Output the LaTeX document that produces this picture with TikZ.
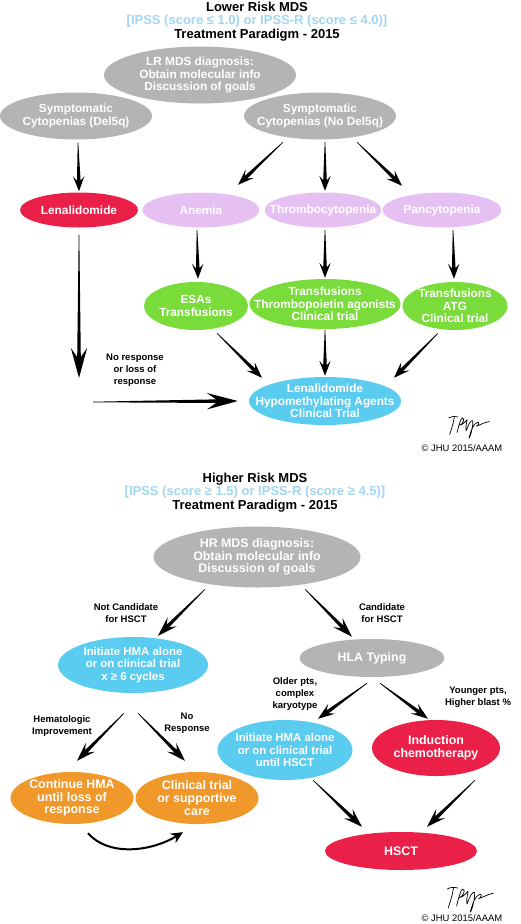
\documentclass[tikz,border=0pt]{standalone}
\usepackage{fontspec}
\setmainfont{Liberation Sans}
\usetikzlibrary{arrows.meta,calc,shapes.geometric}

\definecolor{mdsgrey}{RGB}{178,180,181}
\definecolor{mdspink}{RGB}{230,192,242}
\definecolor{mdsred}{RGB}{234,32,72}
\definecolor{mdsgreen}{RGB}{122,220,58}
\definecolor{mdscyan}{RGB}{90,204,240}
\definecolor{mdsorange}{RGB}{240,152,42}
\definecolor{mdsblue}{RGB}{160,214,240}

\newcommand\ovalfont{\bfseries\fontsize{11.8}{12.3}\selectfont}
\newcommand\hrfont{\bfseries\fontsize{12.4}{12.6}\selectfont}
\newcommand\hmafont{\bfseries\fontsize{11.4}{12.6}\selectfont}
\newcommand\lblfont{\bfseries\fontsize{9.5}{12}\selectfont}
\newcommand\ttlfont{\bfseries\fontsize{13}{13.4}\selectfont}

% tapered arrow: [head length]{from}{to}
\newcommand\tarrow[3][16]{%
  \path (#2) coordinate (ta) (#3) coordinate (tb);
  \pgfmathsetmacro\thw{0.16*#1+3.3}
  \pgfmathsetmacro\tnl{0.7*#1}
  \path ($(tb)!#1pt!(ta)$) coordinate (tm) ($(tb)!\tnl pt!(ta)$) coordinate (tn);
  \fill ($(ta)!0.3pt!90:(tb)$) -- ($(tn)!1.8pt!90:(tb)$) -- ($(tm)!\thw pt!90:(tb)$) -- (tb)
    -- ($(tm)!\thw pt!-90:(tb)$) -- ($(tn)!1.8pt!-90:(tb)$) -- ($(ta)!0.3pt!-90:(tb)$) -- cycle;}

% signature scribble
\newcommand\signature{%
  \draw[line width=0.7pt, line cap=round, line join=round]
    (3,2) .. controls (6,0) and (10,0) .. (13,1)
    (9,1) .. controls (8,8) and (6,14) .. (4,20)
    (12,18) .. controls (14,10) and (16,2) .. (18,2) .. controls (21,3) and (18,9) .. (15,10)
    .. controls (19,9) and (21,6) .. (23,4) .. controls (22,9) and (21,14) .. (22,16)
    .. controls (24,10) and (27,4) .. (29,5) .. controls (30,8) and (27,22) .. (25,24)
    .. controls (27,16) and (30,8) .. (34,7) .. controls (37,6) and (35,11) .. (33,11)
    .. controls (37,10) and (41,7) .. (47,6);}

\begin{document}
\begin{tikzpicture}[x=1pt, y=-1pt,
  txt/.style={align=center, text=white, inner sep=0pt, font=\ovalfont},
  oval/.style={ellipse, inner sep=0pt, label={[txt]center:{#1}}},
  hroval/.style={ellipse, inner sep=0pt, label={[txt, font=\hrfont]center:{#1}}},
  hmaoval/.style={ellipse, inner sep=0pt, label={[txt, font=\hmafont]center:{#1}}},
  wh/.style 2 args={minimum width=#1pt, minimum height=#2pt},
  lbl/.style={align=center, font=\lblfont},
  ttl/.style={align=center, font=\ttlfont},
  copyr/.style={font=\fontsize{9.4}{10}\selectfont}
]
\useasboundingbox (0,0) rectangle (520,924);

%% Lower risk
\node[ttl] (lrtitle) at (257,21.5) {Lower Risk MDS\\{\color{mdsblue}[IPSS (score ≤ 1.0) or IPSS-R (score ≤ 4.0)]}\\Treatment Paradigm - 2015};

\node[oval={LR MDS diagnosis:\\Obtain molecular info\\Discussion of goals}, fill=mdsgrey, wh={192}{57}] (lrdiag) at (200,75) {};
\node[oval={Symptomatic\\Cytopenias (Del5q)}, fill=mdsgrey, wh={152}{47}] (del5q) at (76,116) {};
\node[oval={Symptomatic\\Cytopenias (No Del5q)}, fill=mdsgrey, wh={152}{47}] (nodel) at (320,116) {};

\node[oval={Lenalidomide}, fill=mdsred, wh={118}{35}] (lena) at (79,210) {};
\node[oval={Anemia}, fill=mdspink, wh={117}{35}] (anemia) at (201,210) {};
\node[oval={Thrombocytopenia}, fill=mdspink, wh={117}{35}] (thromb) at (323,210) {};
\node[oval={Pancytopenia}, fill=mdspink, wh={119}{35}] (pancy) at (442,210) {};

\node[oval={ESAs\\Transfusions}, fill=mdsgreen, wh={104}{48}] (esa) at (196,306) {};
\node[oval={Transfusions\\Thrombopoietin agonists\\Clinical trial}, fill=mdsgreen, wh={151}{50}] (tpo) at (325,304) {};
\node[oval={Transfusions\\ATG\\Clinical trial}, fill=mdsgreen, wh={105}{48}] (atg) at (455,306) {};

\node[oval={Lenalidomide\\Hypomethylating Agents\\Clinical Trial}, fill=mdscyan, wh={152}{48}] (lhc) at (325,401) {};
\node[lbl] (noresp) at (135,370) {No response\\or loss of\\response};
\coordinate (lenaend) at (79,378);
\coordinate (nrstart) at (93,402);

\tarrow[15]{[xshift=2pt,yshift=-3pt]del5q.south}{[yshift=1pt]lena.north}
\tarrow{[xshift=-37pt,yshift=-2.5pt]nodel.south}{[xshift=37pt,yshift=7.5pt]anemia.north}
\tarrow[15]{[xshift=5pt,yshift=-2.5pt]nodel.south}{[xshift=2pt,yshift=1.5pt]thromb.north}
\tarrow{[xshift=37pt,yshift=-2.5pt]nodel.south}{[xshift=-40pt,yshift=6.5pt]pancy.north}
\tarrow[15]{[xshift=-4pt,yshift=-2.5pt]anemia.south}{[xshift=2pt,yshift=3pt]esa.north}
\tarrow[15]{[xshift=2pt,yshift=-2.5pt]thromb.south}{[yshift=1pt]tpo.north}
\tarrow[15]{[xshift=11pt,yshift=-2.5pt]pancy.south}{[xshift=-1pt,yshift=3pt]atg.north}
\tarrow{[xshift=21pt,yshift=-3pt]esa.south}{[xshift=-63pt,yshift=-1pt]lhc.north}
\tarrow[15]{[yshift=-1pt]tpo.south}{[yshift=1pt]lhc.north}
\tarrow{[xshift=-17pt,yshift=-3pt]atg.south}{[xshift=69pt,yshift=-1pt]lhc.north}
\tarrow[30]{[yshift=-7pt]lena.south}{lenaend}
\tarrow[31]{nrstart}{[xshift=-11pt]lhc.west}

\begin{scope}[shift={(446,416)}, scale=0.92]
  \signature
\end{scope}
\node[copyr] (lrcopy) at (462,448) {© JHU 2015/AAAM};

%% Higher risk
\node[ttl] (hrtitle) at (255,492.5) {Higher Risk MDS\\{\color{mdsblue}[IPSS (score ≥ 1.5) or IPSS-R (score ≥ 4.5)]}\\Treatment Paradigm - 2015};

\node[hroval={HR MDS diagnosis:\\Obtain molecular info\\Discussion of goals}, fill=mdsgrey, wh={207}{61}] (hrdiag) at (257,557) {};
\node[hmaoval={Initiate HMA alone\\or on clinical trial\\x ≥ 6 cycles}, fill=mdscyan, wh={150}{56}] (hma) at (133,665) {};
\node[hroval={HLA Typing}, fill=mdsgrey, wh={145}{38}] (hla) at (372,658) {};
\node[hmaoval={Initiate HMA alone\\or on clinical trial\\until HSCT}, fill=mdscyan, wh={135}{60}] (hmat) at (285,750) {};
\node[hroval={Induction\\chemotherapy}, fill=mdsred, wh={128}{56}] (induc) at (436,748) {};
\node[hroval={Continue HMA\\until loss of\\response}, fill=mdsorange, wh={123}{52}] (cont) at (72,798) {};
\node[hroval={Clinical trial\\or supportive\\care}, fill=mdsorange, wh={123}{52}] (clin) at (197,798) {};
\node[hroval={HSCT}, fill=mdsred, wh={152}{38}] (hsct) at (401,851) {};

\node[lbl] (notcand) at (126,613) {Not Candidate\\for HSCT};
\node[lbl] (cand) at (382,613) {Candidate\\for HSCT};
\node[lbl] (hemimp) at (62,726) {Hematologic\\Improvement};
\node[lbl] (noresp2) at (187,723) {No\\Response};
\node[lbl] (older) at (295,694) {Older pts,\\complex\\karyotype};
\node[lbl] (younger) at (478,697) {Younger pts,\\Higher blast \%};

\tarrow[20]{[xshift=-52pt,yshift=-1.5pt]hrdiag.south}{[xshift=25pt,yshift=1pt]hma.north}
\tarrow[20]{[xshift=48pt,yshift=-1.5pt]hrdiag.south}{[xshift=-20pt,yshift=2pt]hla.north}
\tarrow[19]{[xshift=-9pt,yshift=-20pt]hma.south}{[xshift=5pt,yshift=11pt]cont.north}
\tarrow[19]{[xshift=5pt,yshift=-20pt]hma.south}{[xshift=-12pt,yshift=11pt]clin.north}
\tarrow[17]{[xshift=-5pt,yshift=-6pt]hla.south}{[xshift=33pt,yshift=1pt]hmat.north}
\tarrow[17]{[xshift=8pt,yshift=-6pt]hla.south}{[xshift=-8pt,yshift=1pt]induc.north}
\tarrow[19]{[xshift=28pt]hmat.south}{[xshift=-39pt,yshift=5pt]hsct.north}
\tarrow[19]{[xshift=39pt,yshift=-4pt]induc.south}{[xshift=26pt,yshift=5pt]hsct.north}
\draw[line width=2pt, -{Stealth[length=12pt,width=11pt,inset=4pt]}]
  ([xshift=16pt,yshift=-9pt]cont.south) .. controls +(20,23) and +(-33,20) .. ([xshift=-14pt,yshift=-8pt]clin.south);

\begin{scope}[shift={(444,887)}, scale=1.05]
  \signature
\end{scope}
\node[copyr] (hrcopy) at (462,918) {© JHU 2015/AAAM};
\end{tikzpicture}
\end{document}
